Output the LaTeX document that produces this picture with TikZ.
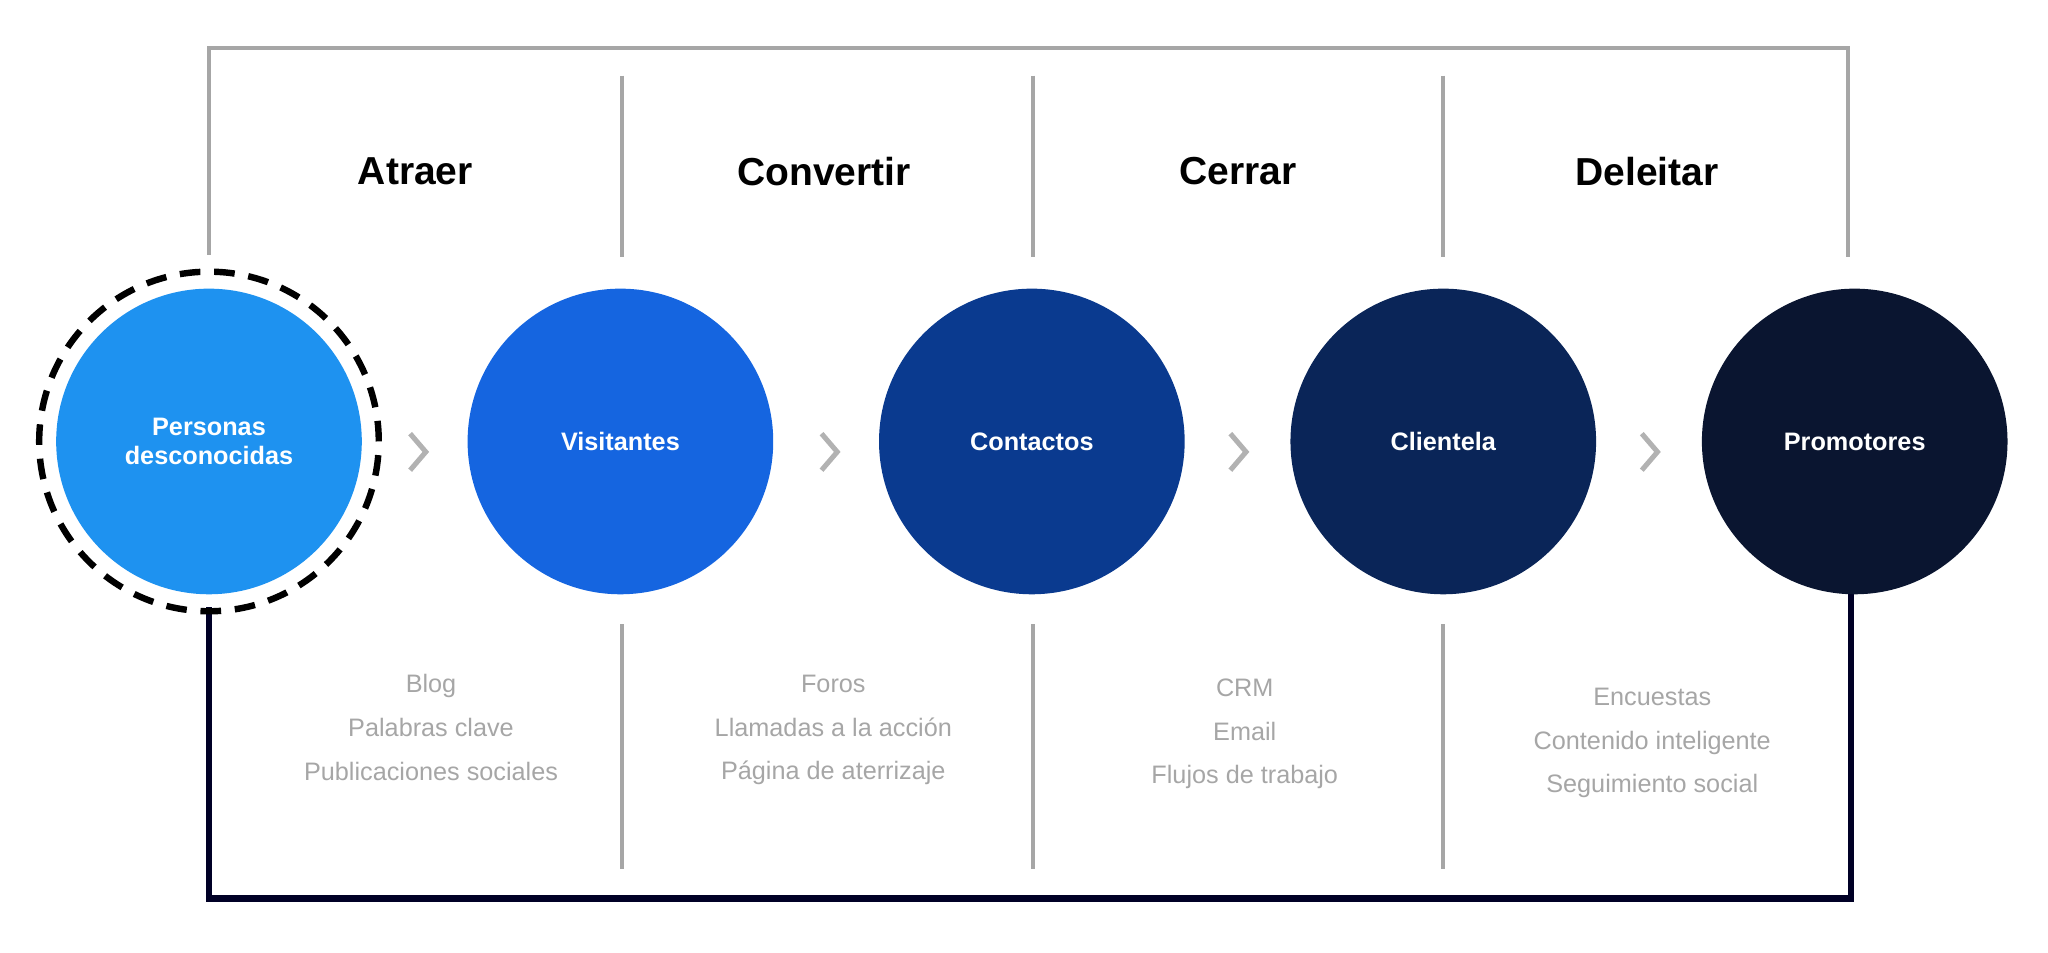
\documentclass[tikz,border=0pt]{standalone}
\usepackage{fontspec}
\setmainfont{Liberation Sans}
\begin{document}
\begin{tikzpicture}[x=0.02cm, y=-0.02cm,
stage/.style = {circle, minimum size=234*0.02cm, inner sep=0pt, text=white, font=\fontsize{11}{13}\selectfont\bfseries, align=center},
heading/.style = {font=\fontsize{17}{20}\selectfont\bfseries},
tool/.style = {text=gray!70, font=\fontsize{11}{19}\selectfont, align=center},
frame/.style = {draw=gray!70, line width=1.6pt},
chev/.style = {draw=gray!60, line width=2.2pt}
]
%spacing
\useasboundingbox (0,0) rectangle (1568,729);

% top frame
\draw[frame] (160,195) -- (160,37) -- (1415,37) -- (1415,197);
\foreach \x in {476, 791, 1105}
{
    \draw[frame] (\x,58) -- (\x,197);
    \draw[frame] (\x,478) -- (\x,665);
}

% bottom frame
\draw[draw=black!85!blue, line width=2.8pt] (160,465) -- (160,688) -- (1417,688) -- (1417,455);

% stages
\node[stage, fill={rgb,255:red,30;green,146;blue,240}] (unknown) at (160,338) {Personas\\desconocidas};
\draw[line width=2.8pt, dash pattern=on 9pt off 6pt] (unknown) circle (130*0.02cm);
\node[stage, fill={rgb,255:red,21;green,101;blue,224}] (visit) at (475,338) {Visitantes};
\node[stage, fill={rgb,255:red,10;green,58;blue,143}] (contact) at (790,338) {Contactos};
\node[stage, fill={rgb,255:red,10;green,37;blue,88}] (client) at (1105,338) {Clientela};
\node[stage, fill={rgb,255:red,10;green,21;blue,48}] (promo) at (1420,338) {Promotores};

% chevrons
\foreach \x in {320, 635, 948, 1263}
{
    \draw[chev] (\x-6,332) -- (\x+6,346) -- (\x-6,360);
}

% headings
\node[heading] (attract) at (318,131) {Atraer};
\node[heading] (convert) at (631,131) {Convertir};
\node[heading] (close) at (948,131) {Cerrar};
\node[heading] (delight) at (1261,131) {Deleitar};

% tools
\node[tool] (tools1) at (330,557) {Blog\\Palabras clave\\Publicaciones sociales};
\node[tool] (tools2) at (638,559) {Foros\\Llamadas a la acción\\Página de aterrizaje};
\node[tool] (tools3) at (953,562) {CRM\\Email\\Flujos de trabajo};
\node[tool] (tools4) at (1265,569) {Encuestas\\Contenido inteligente\\Seguimiento social};
\end{tikzpicture}
\end{document}
